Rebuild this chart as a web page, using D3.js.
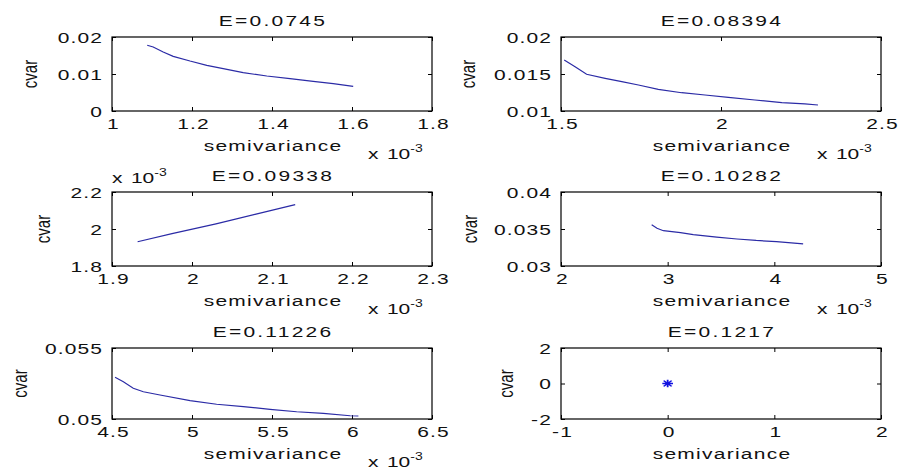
<!DOCTYPE html>
<html>
<head>
<meta charset="utf-8">
<script src="https://cdn.jsdelivr.net/npm/d3@7"></script>
<style>
  html, body { margin: 0; padding: 0; background: #fff; }
  svg { display: block; }
  text { font-family: "Liberation Sans", Arial, sans-serif; fill: #111; }
</style>
</head>
<body>
<svg id="chart" width="899" height="470"></svg>
<script>
// ---------------- DATA ----------------
const titles = ["E=0.0745", "E=0.08394", "E=0.09338", "E=0.10282", "E=0.11226", "E=0.1217"];
const xLabel = "semivariance";
const yLabel = "cvar";

// semivariance values in units of 10^-3 (panels 1-5); panel 6 in plain units
const p1x = [1.088, 1.103, 1.128, 1.153, 1.195, 1.237, 1.278, 1.328, 1.387, 1.445, 1.503, 1.553, 1.603];
const p1y = [0.01776, 0.01730, 0.01595, 0.01478, 0.01351, 0.01235, 0.01143, 0.01035, 0.00946, 0.00873, 0.00803, 0.00738, 0.00668];

const p2x = [1.510, 1.544, 1.580, 1.638, 1.690, 1.742, 1.804, 1.877, 1.950, 2.023, 2.106, 2.190, 2.262, 2.303];
const p2y = [0.01689, 0.01599, 0.01496, 0.01442, 0.01396, 0.01351, 0.01293, 0.01247, 0.01216, 0.01185, 0.01149, 0.01112, 0.01095, 0.01081];

// cvar values of panel 3 also in units of 10^-3
const p3x = [1.932, 1.975, 2.030, 2.080, 2.129];
const p3y = [1.931, 1.975, 2.028, 2.080, 2.132];

const p4x = [2.85, 2.90, 2.96, 3.12, 3.24, 3.46, 3.65, 3.83, 4.02, 4.27];
const p4y = [0.03558, 0.03510, 0.03477, 0.03450, 0.03425, 0.03390, 0.03365, 0.03345, 0.03330, 0.03300];

const p5x = [4.519, 4.571, 4.633, 4.696, 4.800, 4.988, 5.154, 5.321, 5.488, 5.654, 5.821, 5.988, 6.040];
const p5y = [0.05294, 0.05263, 0.05216, 0.05192, 0.05169, 0.05129, 0.05104, 0.05087, 0.05068, 0.05051, 0.05040, 0.05023, 0.05021];

const p6x = [0];
const p6y = [0];

const xDomains = [[1, 1.8], [1.5, 2.5], [1.9, 2.3], [2, 5], [4.5, 6.5], [-1, 2]];
const yDomains = [[0, 0.02], [0.01, 0.02], [1.8, 2.2], [0.03, 0.04], [0.05, 0.055], [-2, 2]];

const xTicks = [[1, 1.2, 1.4, 1.6, 1.8], [1.5, 2, 2.5], [1.9, 2, 2.1, 2.2, 2.3], [2, 3, 4, 5], [4.5, 5, 5.5, 6, 6.5], [-1, 0, 1, 2]];
const xTickLabels = [["1", "1.2", "1.4", "1.6", "1.8"], ["1.5", "2", "2.5"], ["1.9", "2", "2.1", "2.2", "2.3"], ["2", "3", "4", "5"], ["4.5", "5", "5.5", "6", "6.5"], ["-1", "0", "1", "2"]];
const yTicks = [[0, 0.01, 0.02], [0.01, 0.015, 0.02], [1.8, 2, 2.2], [0.03, 0.035, 0.04], [0.05, 0.055], [-2, 0, 2]];
const yTickLabels = [["0", "0.01", "0.02"], ["0.01", "0.015", "0.02"], ["1.8", "2", "2.2"], ["0.03", "0.035", "0.04"], ["0.05", "0.055"], ["-2", "0", "2"]];

const xExponent = [true, true, true, true, true, false];
const yExponent = [false, false, true, false, false, false];
const markerOnly = [false, false, false, false, false, true];

const seriesX = [p1x, p2x, p3x, p4x, p5x, p6x];
const seriesY = [p1y, p2y, p3y, p4y, p5y, p6y];

// ---------------- LAYOUT ----------------
const colLeft = [112, 561];
const colWidth = 320;
const rowTop = [37, 192, 348];
const rowHeight = [74, 74, 71];
const yLabelX = [37, 475, 50, 477, 27, 513];
const SX = 1.4;           // horizontal stretch of the original picture
const FS = 15;            // font size
const lineColor = "#2b2ba6";

const svg = d3.select("#chart");

for (let i = 0; i < 6; i++) {
  const col = i % 2, row = Math.floor(i / 2);
  const x0 = colLeft[col], x1 = x0 + colWidth;
  const y0 = rowTop[row], y1 = y0 + rowHeight[row];

  const x = d3.scaleLinear().domain(xDomains[i]).range([x0, x1]);
  const y = d3.scaleLinear().domain(yDomains[i]).range([y1, y0]);

  const g = svg.append("g");

  // axes (ticks point inward)
  const bottom = g.append("g").attr("transform", `translate(0,${y1})`)
    .call(d3.axisBottom(x).tickValues(xTicks[i]).tickFormat((d, k) => xTickLabels[i][k]).tickSizeInner(-4).tickSizeOuter(0));
  const top = g.append("g").attr("transform", `translate(0,${y0})`)
    .call(d3.axisTop(x).tickValues(xTicks[i]).tickFormat("").tickSizeInner(-4).tickSizeOuter(0));
  const left = g.append("g").attr("transform", `translate(${x0},0)`)
    .call(d3.axisLeft(y).tickValues(yTicks[i]).tickFormat((d, k) => yTickLabels[i][k]).tickSizeInner(-4).tickSizeOuter(0));
  const right = g.append("g").attr("transform", `translate(${x1},0)`)
    .call(d3.axisRight(y).tickValues(yTicks[i]).tickFormat("").tickSizeInner(-4).tickSizeOuter(0));

  [bottom, top, left, right].forEach(a => {
    a.select(".domain").remove();
    a.selectAll("line").attr("stroke", "#000").attr("stroke-width", 1);
    a.attr("font-family", null).attr("font-size", null);
  });
  bottom.selectAll("text")
    .attr("y", null).attr("dy", null)
    .attr("text-anchor", "middle")
    .style("font-size", FS + "px").style("letter-spacing", "0.8px")
    .attr("transform", `translate(1,${18}) scale(${SX},1)`);
  left.selectAll("text")
    .attr("x", null).attr("dy", null)
    .attr("text-anchor", "end")
    .style("font-size", FS + "px").style("letter-spacing", "0.8px")
    .attr("transform", `translate(-9,5) scale(${SX},1)`);
  top.selectAll("text").remove();
  right.selectAll("text").remove();

  // box
  g.append("rect").attr("x", x0).attr("y", y0).attr("width", x1 - x0).attr("height", y1 - y0)
    .attr("fill", "none").attr("stroke", "#000").attr("stroke-width", 1.2);

  // data
  const pts = seriesX[i].map((v, k) => [v, seriesY[i][k]]);
  if (markerOnly[i]) {
    pts.forEach(p => {
      const cx = x(p[0]), cy = y(p[1]);
      const r = 3.8;
      const pth = d3.path();
      pth.moveTo(-r, 0); pth.lineTo(r, 0);
      pth.moveTo(0, -r); pth.lineTo(0, r);
      pth.moveTo(-r * 0.75, -r * 0.75); pth.lineTo(r * 0.75, r * 0.75);
      pth.moveTo(-r * 0.75, r * 0.75); pth.lineTo(r * 0.75, -r * 0.75);
      g.append("path").attr("d", pth.toString())
        .attr("transform", `translate(${cx},${cy}) scale(${SX},1)`)
        .attr("stroke", "#1010e0").attr("stroke-width", 1.3).attr("fill", "none");
    });
  } else {
    g.append("path").datum(pts)
      .attr("d", d3.line().x(d => x(d[0])).y(d => y(d[1])))
      .attr("fill", "none").attr("stroke", lineColor).attr("stroke-width", 1.2);
  }

  // title
  g.append("text").attr("text-anchor", "middle").style("font-size", FS + "px").style("letter-spacing", "1.6px")
    .attr("transform", `translate(${(x0 + x1) / 2 + 1},${y0 - 11}) scale(${SX},1)`)
    .text(titles[i]);

  // x label
  g.append("text").attr("text-anchor", "middle").style("font-size", FS + "px").style("letter-spacing", "0.9px")
    .attr("transform", `translate(${(x0 + x1) / 2 + 1},${y1 + 40}) scale(${SX},1)`)
    .text(xLabel);

  // y label
  g.append("text").attr("text-anchor", "middle").style("font-size", FS + "px")
    .attr("transform", `translate(${yLabelX[i]},${(y0 + y1) / 2}) scale(${SX},1) rotate(-90)`)
    .text(yLabel);

  // exponent labels
  function exponent(tx, ty) {
    const t = g.append("text").style("font-size", FS + "px")
      .attr("transform", `translate(${tx},${ty}) scale(${SX},1)`);
    t.append("tspan").text("x");
    t.append("tspan").attr("dx", 6).text("10");
    t.append("tspan").attr("dy", -7).style("font-size", "10px").text("-3");
  }
  if (xExponent[i]) exponent(x1 - 64, y1 + 48);
  if (yExponent[i]) exponent(x0, y0 - 9);
}
</script>
</body>
</html>
